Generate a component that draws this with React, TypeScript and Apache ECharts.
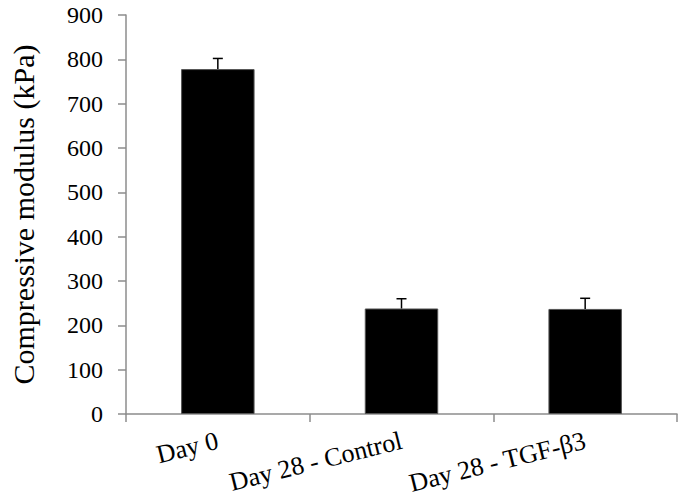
import React, { useEffect, useRef } from "react";
import * as echarts from "echarts";

const categories = ["Day 0", "Day 28 - Control", "Day 28 - TGF-β3"];
const means = [778, 238, 237];
const errors = [24, 22, 24];
const yTicks = [0, 100, 200, 300, 400, 500, 600, 700, 800, 900];

const FONT = "Liberation Serif";

export default function App() {
  const ref = useRef<HTMLDivElement>(null);
  useEffect(() => {
    if (!ref.current) return;
    const chart = echarts.init(ref.current, undefined, { renderer: "svg" });
    const errData = means.map((m, i) => [i, m, m + errors[i]]);
    chart.setOption({
      animation: false,
      backgroundColor: "#ffffff",
      grid: { left: 122, right: 9, top: 15, bottom: 90, containLabel: false },
      xAxis: {
        type: "category",
        data: categories,
        axisLine: { lineStyle: { color: "#8c8c8c", width: 1.5 } },
        axisTick: { show: true, length: 8, lineStyle: { color: "#8c8c8c", width: 1.5 } },
        axisLabel: {
          rotate: 14,
          margin: 26,
          fontSize: 26,
          fontFamily: FONT,
          color: "#000",
        },
      },
      yAxis: {
        type: "value",
        min: yTicks[0],
        max: yTicks[yTicks.length - 1],
        interval: 100,
        name: "Compressive modulus (kPa)",
        nameLocation: "middle",
        nameGap: 88,
        nameRotate: 90,
        nameTextStyle: { fontSize: 30, fontFamily: FONT, color: "#000" },
        axisLine: { show: true, lineStyle: { color: "#8c8c8c", width: 1.5 } },
        axisTick: { show: true, length: 8, lineStyle: { color: "#8c8c8c", width: 1.5 } },
        splitLine: { show: false },
        axisLabel: { fontSize: 24, fontFamily: FONT, color: "#000", margin: 23 },
      },
      series: [
        {
          type: "bar",
          data: means,
          barWidth: "40%",
          itemStyle: { color: "#000", borderColor: "#555", borderWidth: 1 },
          z: 2,
        },
        {
          type: "custom",
          data: errData,
          z: 3,
          renderItem: (params: any, api: any) => {
            const x = api.value(0);
            const low = api.coord([x, api.value(1)]);
            const high = api.coord([x, api.value(2)]);
            const half = 5;
            return {
              type: "group",
              children: [
                {
                  type: "line",
                  shape: { x1: low[0], y1: low[1], x2: high[0], y2: high[1] },
                  style: { stroke: "#000", lineWidth: 1.5 },
                },
                {
                  type: "line",
                  shape: { x1: high[0] - half, y1: high[1], x2: high[0] + half, y2: high[1] },
                  style: { stroke: "#000", lineWidth: 1.5 },
                },
              ],
            };
          },
        },
      ],
    });
    return () => chart.dispose();
  }, []);
  return (
    <div
      ref={ref}
      style={{ position: "fixed", left: 0, top: 0, width: 686, height: 504, background: "#fff" }}
    />
  );
}
